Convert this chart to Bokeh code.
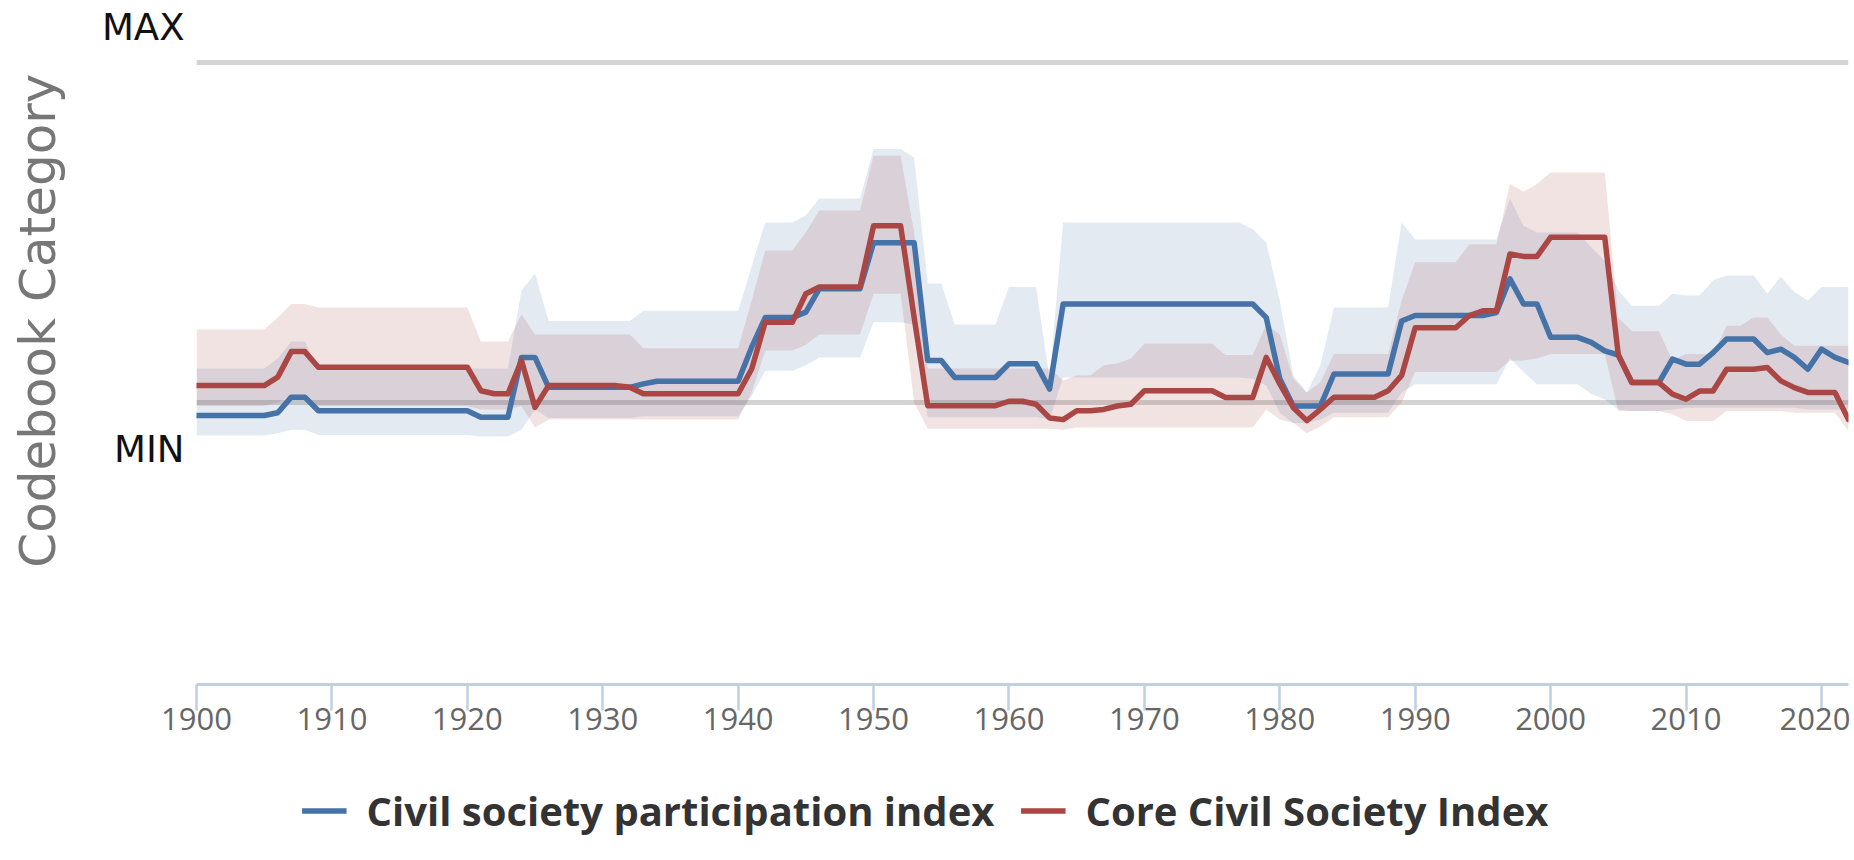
import math
from bokeh.plotting import figure
from bokeh.layouts import column, row
from bokeh.models import Range1d, FixedTicker, Span, Legend, LegendItem, CustomJSTickFormatter
from bokeh.core.properties import value
from bokeh.embed import file_html
from bokeh.resources import INLINE

years = list(range(1900, 2023))

x_ticks = [1900, 1910, 1920, 1930, 1940, 1950, 1960, 1970, 1980, 1990, 2000, 2010, 2020]
y_lines = [0.0, 1.0]
y_label_pos = [-0.138, 1.103]
y_title = "Codebook Category"
series_names = ["Civil society participation index", "Core Civil Society Index"]

# Civil society participation index (blue)
cspi = [
    -0.038, -0.038, -0.038, -0.038, -0.038, -0.038, -0.030, 0.016, 0.016, -0.024,
    -0.024, -0.024, -0.024, -0.024, -0.024, -0.024, -0.024, -0.024, -0.024, -0.024,
    -0.024, -0.043, -0.043, -0.043, 0.133, 0.133, 0.045, 0.045, 0.045, 0.045,
    0.045, 0.045, 0.045, 0.055, 0.063, 0.063, 0.063, 0.063, 0.063, 0.063,
    0.063, 0.163, 0.250, 0.250, 0.250, 0.266, 0.335, 0.335, 0.335, 0.335,
    0.470, 0.470, 0.470, 0.470, 0.124, 0.124, 0.074, 0.074, 0.074, 0.074,
    0.114, 0.114, 0.114, 0.040, 0.290, 0.290, 0.290, 0.290, 0.290, 0.290,
    0.290, 0.290, 0.290, 0.290, 0.290, 0.290, 0.290, 0.290, 0.290, 0.250,
    0.070, -0.010, -0.010, -0.010, 0.084, 0.084, 0.084, 0.084, 0.084, 0.240,
    0.256, 0.256, 0.256, 0.256, 0.256, 0.256, 0.265, 0.364, 0.290, 0.290,
    0.192, 0.192, 0.192, 0.177, 0.152, 0.140, 0.059, 0.059, 0.059, 0.128,
    0.113, 0.113, 0.147, 0.187, 0.187, 0.187, 0.147, 0.157, 0.133, 0.098,
    0.157, 0.133, 0.118,
]
cspi_hi = [
    0.10, 0.10, 0.10, 0.10, 0.10, 0.10, 0.13, 0.18, 0.18, 0.10,
    0.10, 0.10, 0.10, 0.10, 0.10, 0.10, 0.10, 0.10, 0.10, 0.10,
    0.10, 0.10, 0.10, 0.10, 0.33, 0.38, 0.24, 0.24, 0.24, 0.24,
    0.24, 0.24, 0.24, 0.27, 0.27, 0.27, 0.27, 0.27, 0.27, 0.27,
    0.27, 0.40, 0.53, 0.53, 0.53, 0.55, 0.60, 0.60, 0.60, 0.60,
    0.746, 0.746, 0.746, 0.72, 0.35, 0.35, 0.23, 0.23, 0.23, 0.23,
    0.34, 0.34, 0.34, 0.07, 0.53, 0.53, 0.53, 0.53, 0.53, 0.53,
    0.53, 0.53, 0.53, 0.53, 0.53, 0.53, 0.53, 0.53, 0.51, 0.47,
    0.30, 0.08, 0.03, 0.11, 0.28, 0.28, 0.28, 0.28, 0.28, 0.53,
    0.48, 0.48, 0.48, 0.48, 0.48, 0.48, 0.48, 0.60, 0.52, 0.50,
    0.50, 0.50, 0.50, 0.457, 0.417, 0.33, 0.285, 0.285, 0.285, 0.32,
    0.315, 0.315, 0.36, 0.374, 0.374, 0.374, 0.32, 0.37, 0.325, 0.30,
    0.34, 0.34, 0.34,
]
cspi_lo = [
    -0.097, -0.097, -0.097, -0.097, -0.097, -0.097, -0.09, -0.08, -0.08, -0.095,
    -0.095, -0.095, -0.095, -0.095, -0.095, -0.095, -0.095, -0.095, -0.095, -0.095,
    -0.095, -0.10, -0.10, -0.10, -0.08, -0.02, -0.045, -0.045, -0.045, -0.045,
    -0.045, -0.045, -0.045, -0.04, -0.04, -0.04, -0.04, -0.04, -0.04, -0.04,
    -0.04, 0.02, 0.094, 0.094, 0.094, 0.11, 0.133, 0.133, 0.133, 0.133,
    0.236, 0.236, 0.236, 0.23, -0.043, -0.043, -0.043, -0.043, -0.043, -0.043,
    -0.043, -0.043, -0.043, -0.05, 0.074, 0.074, 0.074, 0.074, 0.074, 0.074,
    0.074, 0.074, 0.074, 0.074, 0.074, 0.074, 0.074, 0.074, 0.07, 0.05,
    -0.03, -0.06, -0.06, -0.05, -0.03, -0.03, -0.03, -0.03, -0.03, 0.03,
    0.054, 0.054, 0.054, 0.054, 0.054, 0.054, 0.054, 0.13, 0.09, 0.054,
    0.054, 0.054, 0.054, 0.025, 0.01, -0.02, -0.025, -0.025, -0.025, -0.02,
    -0.015, -0.015, -0.015, -0.015, -0.015, -0.015, -0.015, -0.015, -0.015, -0.02,
    -0.02, -0.02, -0.02,
]

# Core Civil Society Index (red)
ccsi = [
    0.05, 0.05, 0.05, 0.05, 0.05, 0.05, 0.075, 0.15, 0.15, 0.104,
    0.104, 0.104, 0.104, 0.104, 0.104, 0.104, 0.104, 0.104, 0.104, 0.104,
    0.104, 0.035, 0.026, 0.026, 0.124, -0.014, 0.05, 0.05, 0.05, 0.05,
    0.05, 0.05, 0.045, 0.026, 0.026, 0.026, 0.026, 0.026, 0.026, 0.026,
    0.026, 0.099, 0.236, 0.236, 0.236, 0.32, 0.34, 0.34, 0.34, 0.34,
    0.52, 0.52, 0.52, 0.25, -0.009, -0.009, -0.009, -0.009, -0.009, -0.009,
    0.004, 0.004, -0.005, -0.045, -0.05, -0.024, -0.024, -0.02, -0.01, -0.005,
    0.035, 0.035, 0.035, 0.035, 0.035, 0.035, 0.015, 0.015, 0.015, 0.133,
    0.055, -0.015, -0.053, -0.02, 0.016, 0.016, 0.016, 0.016, 0.035, 0.08,
    0.22, 0.22, 0.22, 0.22, 0.256, 0.27, 0.27, 0.437, 0.43, 0.43,
    0.486, 0.486, 0.486, 0.486, 0.486, 0.14, 0.059, 0.059, 0.059, 0.025,
    0.01, 0.034, 0.034, 0.098, 0.098, 0.098, 0.103, 0.064, 0.044, 0.03,
    0.03, 0.03, -0.05,
]
ccsi_hi = [
    0.215, 0.215, 0.215, 0.215, 0.215, 0.215, 0.25, 0.29, 0.29, 0.28,
    0.28, 0.28, 0.28, 0.28, 0.28, 0.28, 0.28, 0.28, 0.28, 0.28,
    0.28, 0.18, 0.18, 0.18, 0.26, 0.20, 0.20, 0.20, 0.20, 0.20,
    0.20, 0.20, 0.20, 0.16, 0.16, 0.16, 0.16, 0.16, 0.16, 0.16,
    0.16, 0.30, 0.447, 0.447, 0.447, 0.50, 0.565, 0.565, 0.565, 0.565,
    0.726, 0.726, 0.726, 0.50, 0.10, 0.10, 0.10, 0.10, 0.10, 0.10,
    0.10, 0.10, 0.10, 0.10, 0.065, 0.08, 0.08, 0.11, 0.115, 0.13,
    0.173, 0.173, 0.173, 0.173, 0.173, 0.173, 0.14, 0.14, 0.14, 0.23,
    0.20, 0.07, 0.03, 0.06, 0.143, 0.143, 0.143, 0.143, 0.143, 0.30,
    0.413, 0.413, 0.413, 0.413, 0.466, 0.466, 0.466, 0.643, 0.62, 0.643,
    0.677, 0.677, 0.677, 0.677, 0.677, 0.25, 0.21, 0.21, 0.21, 0.123,
    0.143, 0.143, 0.143, 0.226, 0.226, 0.25, 0.25, 0.20, 0.167, 0.167,
    0.167, 0.167, 0.167,
]
ccsi_lo = [
    -0.01, -0.01, -0.01, -0.01, -0.01, -0.01, 0.0, 0.02, 0.02, -0.01,
    -0.01, -0.01, -0.01, -0.01, -0.01, -0.01, -0.01, -0.01, -0.01, -0.01,
    -0.01, -0.02, -0.02, -0.02, -0.01, -0.073, -0.05, -0.05, -0.05, -0.05,
    -0.05, -0.05, -0.05, -0.05, -0.05, -0.05, -0.05, -0.05, -0.05, -0.05,
    -0.05, 0.03, 0.153, 0.153, 0.153, 0.17, 0.20, 0.20, 0.20, 0.20,
    0.32, 0.32, 0.32, 0.0, -0.077, -0.077, -0.077, -0.077, -0.077, -0.077,
    -0.077, -0.077, -0.077, -0.077, -0.08, -0.073, -0.073, -0.073, -0.073, -0.073,
    -0.073, -0.073, -0.073, -0.073, -0.073, -0.073, -0.073, -0.073, -0.073, -0.02,
    -0.05, -0.06, -0.09, -0.07, -0.043, -0.043, -0.043, -0.043, -0.043, 0.0,
    0.09, 0.09, 0.09, 0.09, 0.09, 0.09, 0.09, 0.124, 0.124, 0.13,
    0.143, 0.143, 0.143, 0.143, 0.143, -0.025, -0.025, -0.025, -0.025, -0.034,
    -0.054, -0.054, -0.054, -0.025, -0.025, -0.025, -0.025, -0.025, -0.03, -0.03,
    -0.03, -0.03, -0.084,
]

BLUE = "#4572A7"
RED = "#AA4643"
LW = 5.5
H_MAIN = 770
STRIP_W = 80

y_range = Range1d(-0.829, 1.159)

# ---- main chart ----
p = figure(width=1850 - STRIP_W, height=H_MAIN,
           x_range=Range1d(1900, 2022), y_range=y_range,
           output_backend="svg", toolbar_location=None,
           min_border_left=196 - STRIP_W, min_border_right=2, min_border_top=8,
           min_border_bottom=86)
p.outline_line_color = None
p.xgrid.visible = False
p.ygrid.visible = False

for yl in y_lines:
    p.add_layout(Span(location=yl, dimension="width", line_color="#d4d4d4",
                      line_width=5, level="underlay"))

p.varea(x=years, y1=cspi_lo, y2=cspi_hi, fill_color=BLUE, fill_alpha=0.15)
p.varea(x=years, y1=ccsi_lo, y2=ccsi_hi, fill_color=RED, fill_alpha=0.15)

p.line(years, cspi, line_color=BLUE, line_width=LW, line_join="round", line_cap="round")
p.line(years, ccsi, line_color=RED, line_width=LW, line_join="round", line_cap="round")

xa = p.xaxis[0]
xa.ticker = FixedTicker(ticks=x_ticks)
xa.axis_line_color = "#C0D0E0"
xa.axis_line_width = 3
xa.major_tick_line_color = "#C0D0E0"
xa.major_tick_line_width = 2.5
xa.major_tick_out = 26
xa.major_tick_in = 0
xa.minor_tick_line_color = None
xa.major_label_text_font = "Open Sans"
xa.major_label_text_font_size = "31px"
xa.major_label_text_color = "#666666"
xa.major_label_standoff = -3

ya = p.yaxis[0]
ya.ticker = FixedTicker(ticks=y_label_pos)
ya.formatter = CustomJSTickFormatter(code="return tick > 0.5 ? 'MAX' : 'MIN';")
ya.axis_line_color = None
ya.major_tick_line_color = None
ya.minor_tick_line_color = None
ya.major_label_text_font = "DejaVu Sans"
ya.major_label_text_font_size = "37px"
ya.major_label_text_color = "#111111"
ya.major_label_standoff = 6

# ---- left strip with the axis title (shares the chart's y scale) ----
lt = figure(width=STRIP_W, height=H_MAIN, x_range=Range1d(0, STRIP_W), y_range=y_range,
            output_backend="svg", toolbar_location=None, min_border=0,
            min_border_top=8, min_border_bottom=86)
lt.outline_line_color = None
lt.axis.visible = False
lt.grid.visible = False
lt.text(x=[37], y=[0.241], text=[y_title], angle=math.pi / 2,
        text_align="center", text_baseline="middle",
        text_font=value("DejaVu Sans"), text_font_size="50px", text_color="#777777")

# ---- legend strip below ----
lf = figure(width=1850, height=80, x_range=Range1d(0, 1), y_range=Range1d(0, 1),
            output_backend="svg", toolbar_location=None, min_border=0)
lf.outline_line_color = None
lf.axis.visible = False
lf.grid.visible = False
lb = lf.line(x=[5, 6], y=[5, 5], line_color=BLUE, line_width=LW)
lr = lf.line(x=[5, 6], y=[5, 5], line_color=RED, line_width=LW)
legend = Legend(items=[LegendItem(label=series_names[0], renderers=[lb]),
                       LegendItem(label=series_names[1], renderers=[lr])],
                orientation="horizontal", location="center",
                label_text_font="Open Sans", label_text_font_size="40px",
                label_text_font_style="bold", label_text_color="#333333",
                glyph_width=45, glyph_height=30, label_standoff=20, spacing=26,
                padding=0, margin=0, border_line_color=None, background_fill_alpha=0)
lf.add_layout(legend, "center")

open("out.html", "w").write(file_html(column(row(lt, p), lf), INLINE))
